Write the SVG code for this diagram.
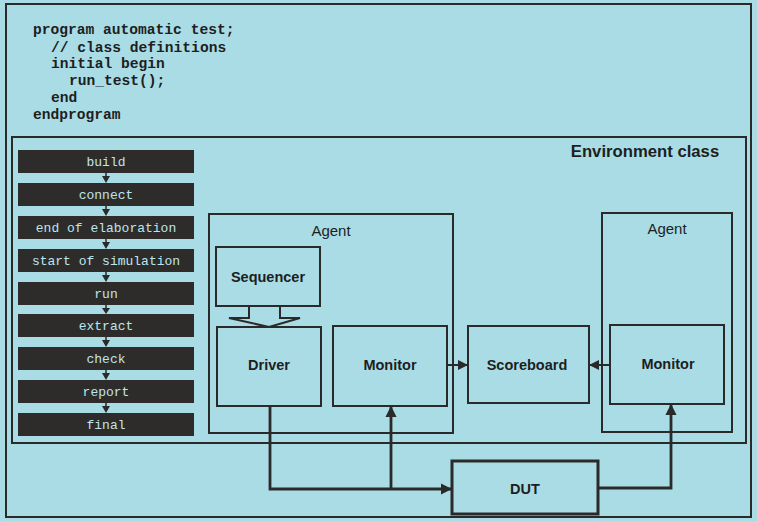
<svg xmlns="http://www.w3.org/2000/svg" width="757" height="521" viewBox="0 0 757 521">
<style>
.box{fill:none;stroke:#2a2a2a;stroke-width:2}
.code{font-family:"Liberation Mono",monospace;font-weight:bold;font-size:14.6px;fill:#1e1e1e}
.ph{fill:#2d2c2b}
.pht{font-family:"Liberation Mono",monospace;font-size:13px;fill:#bde6ec;text-anchor:middle}
.lbl{font-family:"Liberation Sans",Arial,sans-serif;font-weight:bold;font-size:14.5px;fill:#1e1e1e;text-anchor:middle}
.ag{font-family:"Liberation Sans",Arial,sans-serif;font-size:15px;fill:#1e1e1e;text-anchor:middle}
.wire{fill:none;stroke:#2a2a2a;stroke-width:2.8}
.thin{fill:none;stroke:#2a2a2a;stroke-width:2}
</style>
<defs>
<marker id="ah" viewBox="0 0 10 10" refX="9" refY="5" markerWidth="4" markerHeight="4" orient="auto" markerUnits="strokeWidth">
<path d="M0,0 L10,5 L0,10 z" fill="#2a2a2a"/>
</marker>
<marker id="ahs" viewBox="0 0 10 10" refX="9" refY="5" markerWidth="5" markerHeight="5" orient="auto" markerUnits="strokeWidth">
<path d="M0,0 L10,5 L0,10 z" fill="#2a2a2a"/>
</marker>
</defs>
<rect x="0" y="0" width="757" height="521" fill="#a9dce5"/>
<rect id="frame" x="6" y="4" width="745" height="513" class="box"/>
<g id="code">
<text class="code" x="33" y="34">program automatic test;</text>
<text class="code" x="51" y="52">// class definitions</text>
<text class="code" x="51" y="68">initial begin</text>
<text class="code" x="69" y="85">run_test();</text>
<text class="code" x="51" y="102">end</text>
<text class="code" x="33" y="119">endprogram</text>
</g>
<g id="environment">
<rect x="12" y="137" width="734" height="306" class="box"/>
<text x="645" y="157" font-family="Liberation Sans,Arial,sans-serif" font-weight="bold" font-size="16.7" fill="#1e1e1e" text-anchor="middle">Environment class</text>
</g>
<g id="phases">
<g id="ph-build"><rect class="ph" x="18" y="150" width="176" height="23"/><text class="pht" x="106" y="166">build</text></g>
<g id="ph-connect"><rect class="ph" x="18" y="183" width="176" height="23"/><text class="pht" x="106" y="199">connect</text></g>
<g id="ph-eoe"><rect class="ph" x="18" y="216" width="176" height="23"/><text class="pht" x="106" y="232">end of elaboration</text></g>
<g id="ph-sos"><rect class="ph" x="18" y="249" width="176" height="23"/><text class="pht" x="106" y="265">start of simulation</text></g>
<g id="ph-run"><rect class="ph" x="18" y="282" width="176" height="23"/><text class="pht" x="106" y="298">run</text></g>
<g id="ph-extract"><rect class="ph" x="18" y="314" width="176" height="23"/><text class="pht" x="106" y="330">extract</text></g>
<g id="ph-check"><rect class="ph" x="18" y="347" width="176" height="23"/><text class="pht" x="106" y="363">check</text></g>
<g id="ph-report"><rect class="ph" x="18" y="380" width="176" height="23"/><text class="pht" x="106" y="396">report</text></g>
<g id="ph-final"><rect class="ph" x="18" y="413" width="176" height="23"/><text class="pht" x="106" y="429">final</text></g>
</g>
<g id="agent1">
<rect x="209" y="214" width="244" height="219" class="box"/>
<text class="ag" x="331" y="236">Agent</text>
</g>
<g id="sequencer"><rect x="216" y="247" width="104" height="59" class="box"/><text class="lbl" x="268" y="282">Sequencer</text></g>
<g id="driver"><rect x="217" y="327" width="104" height="79" class="box"/><text class="lbl" x="269" y="370">Driver</text></g>
<g id="monitor1"><rect x="333" y="326" width="114" height="80" class="box"/><text class="lbl" x="390" y="370">Monitor</text></g>
<g id="scoreboard"><rect x="468" y="326" width="121" height="77" class="box"/><text class="lbl" x="527" y="370">Scoreboard</text></g>
<g id="agent2">
<rect x="602" y="213" width="130" height="219" class="box"/>
<text class="ag" x="667" y="234">Agent</text>
</g>
<g id="monitor2"><rect x="610" y="325" width="114" height="79" class="box"/><text class="lbl" x="668" y="369">Monitor</text></g>
<g id="dut"><rect x="452" y="461" width="146" height="53" fill="none" stroke="#2a2a2a" stroke-width="3"/><text class="lbl" x="525" y="494">DUT</text></g>
<g id="connectors">
<g fill="#2a2a2a" stroke="#2a2a2a" stroke-width="1.5">
<path d="M106,173 V176 M106,206 V209 M106,239 V242 M106,272 V275 M106,305 V308 M106,337 V340 M106,370 V373 M106,403 V406" fill="none"/>
<path d="M102,176 H110 L106,183 z M102,209 H110 L106,216 z M102,242 H110 L106,249 z M102,275 H110 L106,282 z M102,308 H110 L106,314 z M102,340 H110 L106,347 z M102,373 H110 L106,380 z M102,406 H110 L106,413 z" stroke="none"/>
</g>
<path class="thin" d="M249,306 V318 H229 L269,327 L300,318 H280 V306"/>
<path class="thin" d="M447,365 H467" marker-end="url(#ahs)"/>
<path class="thin" d="M610,365 H590" marker-end="url(#ahs)"/>
<path class="wire" d="M270,406 V489 H451" marker-end="url(#ah)"/>
<path class="wire" d="M391,489 V407" marker-end="url(#ah)"/>
<path class="wire" d="M598,488 H671 V405" marker-end="url(#ah)"/>
</g>
</svg>
